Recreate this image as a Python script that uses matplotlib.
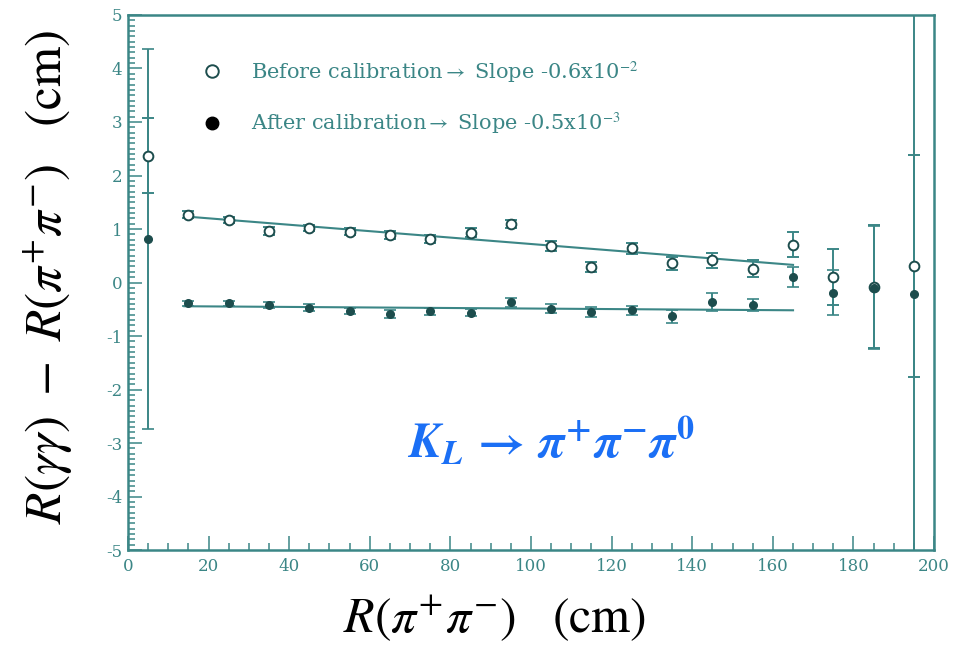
import numpy as np
import matplotlib.pyplot as plt
from matplotlib.lines import Line2D

# bin centres and measured offsets (cm)
r_pipi = [5, 15, 25, 35, 45, 55, 65, 75, 85, 95, 105, 115, 125, 135, 145, 155, 165, 175, 185, 195]
before = [2.37, 1.27, 1.17, 0.96, 1.02, 0.95, 0.89, 0.81, 0.93, 1.09,
          0.68, 0.29, 0.64, 0.36, 0.42, 0.26, 0.71, 0.10, -0.08, 0.31]
before_err = [0.70, 0.06, 0.06, 0.07, 0.06, 0.06, 0.07, 0.07, 0.08, 0.08,
              0.09, 0.10, 0.10, 0.12, 0.14, 0.16, 0.23, 0.52, 1.15, 2.07]
after = [0.82, -0.39, -0.39, -0.42, -0.47, -0.53, -0.59, -0.54, -0.56, -0.37,
         -0.49, -0.55, -0.52, -0.63, -0.36, -0.42, 0.10, -0.19, -0.10, -0.22]
after_err = [3.55, 0.05, 0.05, 0.06, 0.06, 0.06, 0.07, 0.07, 0.07, 0.08,
             0.08, 0.09, 0.09, 0.12, 0.17, 0.12, 0.19, 0.42, 1.15, 6.5]

# linear fits: (intercept, slope), fit range
fit_before = (1.32, -0.6e-2)
fit_after = (-0.436, -0.5e-3)
fit_range = [14, 165]

teal = '#3b8686'
dark = '#1d4d4d'

plt.rcParams['mathtext.fontset'] = 'stix'
plt.rcParams['axes.unicode_minus'] = False
plt.rcParams['font.family'] = ['DejaVu Serif']

fig = plt.figure(figsize=(9.69, 6.51), dpi=100)
ax = fig.add_axes([0.132, 0.155, 0.832, 0.822])

ax.errorbar(r_pipi, before, yerr=before_err, fmt='o', mfc='white', mec=dark, mew=1.4,
            ms=7, ecolor=teal, elinewidth=1.4, capsize=4, capthick=1.2)
ax.errorbar(r_pipi, after, yerr=after_err, fmt='o', mfc=dark, mec=dark,
            ms=5.5, ecolor=teal, elinewidth=1.4, capsize=4, capthick=1.2)

xf = np.array(fit_range)
ax.plot(xf, fit_before[0] + fit_before[1] * xf, color=teal, lw=1.5)
ax.plot(xf, fit_after[0] + fit_after[1] * xf, color=teal, lw=1.5)

handles = [Line2D([], [], ls='none', marker='o', mfc='white', mec=dark, mew=1.4, ms=9),
           Line2D([], [], ls='none', marker='o', mfc='black', mec='black', ms=9)]
labels = [r'Before calibration$\rightarrow$ Slope -0.6x10$^{-2}$',
          r'After calibration$\rightarrow$ Slope -0.5x10$^{-3}$']
ax.legend(handles, labels, loc='upper left', bbox_to_anchor=(0.055, 0.952), frameon=False,
          labelspacing=1.25, handletextpad=0.9, labelcolor=teal,
          prop={'family': 'DejaVu Serif', 'size': 15})

ax.text(105, -2.97,
        r'$\mathbfit{K_L}\,\mathbf{\rightarrow}\,\mathbfit{\pi}^{\mathbf{+}}\mathbfit{\pi}^{\mathbf{-}}\mathbfit{\pi}^{\mathbf{0}}$',
        color='#1b6ff5', fontsize=35, ha='center', va='center')

ax.set_xlim(0, 200)
ax.set_ylim(-5, 5)
ax.set_xticks(np.arange(0, 201, 20))
ax.set_yticks(np.arange(-5, 6, 1))
ax.set_xticks(np.arange(0, 201, 5), minor=True)
ax.set_yticks(np.arange(-5, 5.01, 0.1), minor=True)
ax.tick_params(which='both', direction='in', colors=teal, labelsize=12, width=1.1)
ax.tick_params(which='major', length=10)
ax.tick_params(which='minor', length=5)
ax.tick_params(axis='x', pad=6)
ax.tick_params(axis='y', pad=4)
for s in ax.spines.values():
    s.set_color(teal)
    s.set_linewidth(1.8)

ax.set_xlabel(r'$R(\pi^{+}\pi^{-})\ \ \ (\mathrm{cm})$', fontsize=36)
ax.xaxis.set_label_coords(0.455, -0.08)
ax.set_ylabel(r'$R(\gamma\gamma)\ -\ R(\pi^{+}\pi^{-})\ \ \ (\mathrm{cm})$', fontsize=37)
ax.yaxis.set_label_coords(-0.066, 0.51)

fig.savefig('out.png', dpi=100)
